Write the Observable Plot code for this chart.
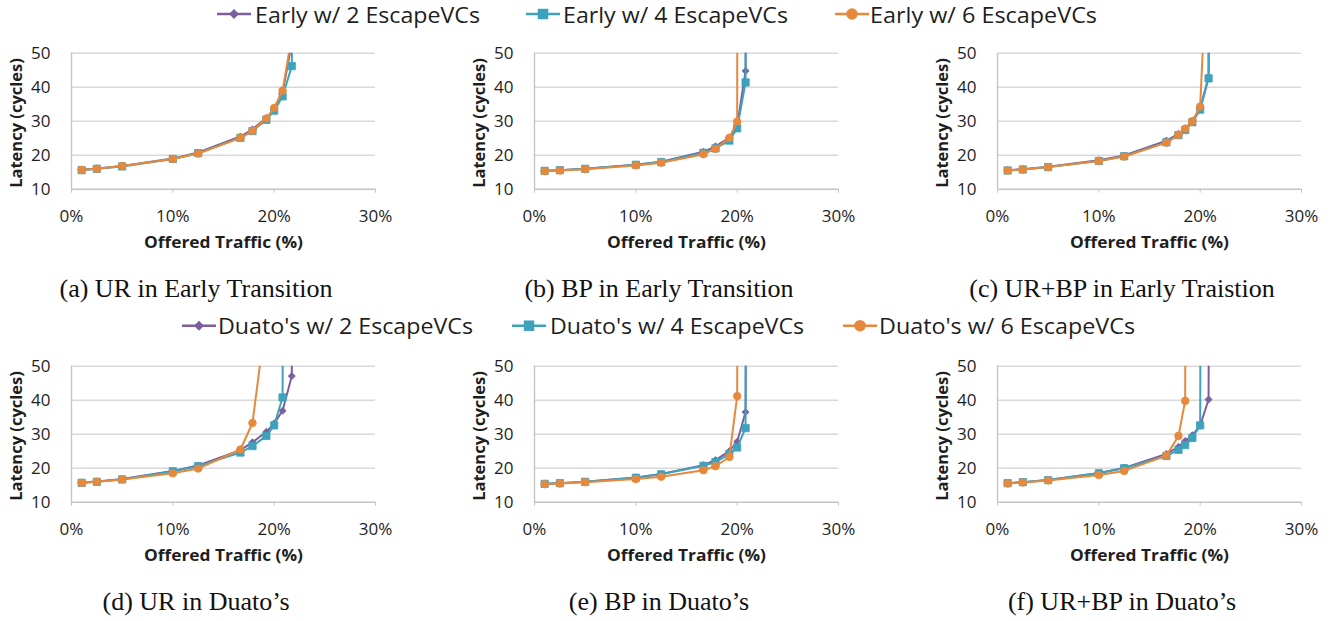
<!DOCTYPE html>
<html>
<head>
<meta charset="utf-8">
<script src="https://cdn.jsdelivr.net/npm/d3@7"></script>
<script src="https://cdn.jsdelivr.net/npm/@observablehq/plot@0.6"></script>
<style>
  html, body { margin: 0; padding: 0; background: #fff; }
  #page { position: relative; width: 1338px; height: 621px; overflow: hidden; font-family: "Open Sans", sans-serif; }
  .panel { position: absolute; }
  #overlay { position: absolute; left: 0; top: 0; pointer-events: none; }
</style>
</head>
<body>
<div id="page"></div>
<script>
// ---------------- data ----------------
const seriesEarly = ["Early w/ 2 EscapeVCs", "Early w/ 4 EscapeVCs", "Early w/ 6 EscapeVCs"];
const seriesDuato = ["Duato's w/ 2 EscapeVCs", "Duato's w/ 4 EscapeVCs", "Duato's w/ 6 EscapeVCs"];
const captions = ["(a) UR in Early Transition", "(b) BP in Early Transition", "(c) UR+BP in Early Traistion",
                  "(d) UR in Duato\u2019s", "(e) BP in Duato\u2019s", "(f) UR+BP in Duato\u2019s"];
const xLabel = "Offered Traffic (%)";
const yLabel = "Latency (cycles)";
const xTicks = [0, 10, 20, 30];
const yTicks = [10, 20, 30, 40, 50];

// offered traffic (%) sampled per panel
const loadUR = [1, 2.5, 5, 10, 12.5, 16.67, 17.86, 19.23, 20, 20.83, 21.74, 22.73];
const loadMix = [1, 2.5, 5, 10, 12.5, 16.67, 17.86, 18.52, 19.23, 20, 20.83, 21.74];

// (a) UR, Early
const aLat2 = [15.7, 16.1, 16.8, 19.0, 20.8, 25.5, 27.6, 30.9, 33.6, 38.5, 53, 400];
const aLat4 = [15.6, 16.0, 16.7, 18.9, 20.6, 25.1, 27.1, 30.4, 33.1, 37.3, 46.2, 400];
const aLat6 = [15.7, 16.0, 16.8, 18.9, 20.5, 25.1, 27.2, 30.8, 33.9, 39.0, 55, 400];
// (b) BP, Early
const bLat2 = [15.4, 15.6, 16.0, 17.2, 18.1, 21.0, 22.6, 25.2, 28.6, 44.8, 1000];
const bLat4 = [15.4, 15.6, 16.0, 17.2, 18.0, 20.7, 22.0, 24.3, 27.9, 41.4, 1000];
const bLat6 = [15.3, 15.5, 15.9, 17.0, 17.8, 20.3, 21.9, 25.1, 29.9, 3000];
// (c) UR+BP, Early
const cLat2 = [15.6, 15.9, 16.6, 18.5, 19.9, 24.3, 26.3, 27.9, 30.1, 33.8, 43.0, 1000];
const cLat4 = [15.5, 15.8, 16.5, 18.3, 19.7, 23.8, 25.9, 27.4, 29.7, 33.4, 42.6, 1000];
const cLat6 = [15.5, 15.8, 16.5, 18.3, 19.6, 23.7, 26.0, 27.8, 30.0, 34.3, 89];
// (d) UR, Duato
const dLat2 = [15.8, 16.1, 16.8, 19.2, 20.8, 25.3, 27.6, 30.7, 33.2, 36.9, 47.1, 1000];
const dLat4 = [15.7, 16.0, 16.7, 19.1, 20.6, 24.6, 26.5, 29.5, 32.6, 40.8, 1000];
const dLat6 = [15.7, 16.0, 16.7, 18.5, 19.9, 25.5, 33.3, 65, 1000];
// (e) BP, Duato
const eLat2 = [15.4, 15.6, 16.0, 17.3, 18.3, 20.9, 22.4, 25.0, 27.8, 36.5, 1000];
const eLat4 = [15.4, 15.6, 16.0, 17.2, 18.2, 20.7, 21.8, 24.2, 26.1, 31.8, 1000];
const eLat6 = [15.3, 15.5, 15.9, 16.8, 17.5, 19.4, 20.6, 23.3, 41.2, 1000];
// (f) UR+BP, Duato
const fLat2 = [15.6, 15.9, 16.5, 18.6, 20.1, 24.2, 26.3, 28.0, 29.7, 32.5, 40.2, 1000];
const fLat4 = [15.6, 15.9, 16.5, 18.5, 20.0, 23.6, 25.4, 26.8, 28.9, 32.6, 1000];
const fLat6 = [15.5, 15.8, 16.4, 18.0, 19.2, 23.7, 29.5, 39.8, 1000];

// ---------------- styles / layout ----------------
const colors = ["#7C5E9C", "#3FA2BC", "#E6893C"];
const symbols = ["diamond2", "square", "circle"];
const dotR = [3.2, 4.1, 3.8];
const textColor = "#1e1e1e";
const gridColor = "#d9d9d9";
const axisColor = "#c4c4c4";

const panelDefs = [
  {load: loadUR,  lats: [aLat2, aLat4, aLat6]},
  {load: loadUR,  lats: [bLat2, bLat4, bLat6]},
  {load: loadMix, lats: [cLat2, cLat4, cLat6]},
  {load: loadUR,  lats: [dLat2, dLat4, dLat6]},
  {load: loadUR,  lats: [eLat2, eLat4, eLat6]},
  {load: loadMix, lats: [fLat2, fLat4, fLat6]}
];
const colPlotLeft = [71, 534.3, 997.3];
const rowSvgTop = [30, 343.3];
const captionX = [196, 659, 1122];
const captionBase = [297, 610];

const page = document.getElementById("page");

function makePanel(def) {
  const marks = [
    Plot.ruleY(yTicks.slice(1), {stroke: gridColor, strokeWidth: 1.4}),
    Plot.ruleY([yTicks[0]], {stroke: axisColor, strokeWidth: 1.4}),
    Plot.ruleX([xTicks[0]], {stroke: axisColor, strokeWidth: 1.4}),
    Plot.axisX(xTicks, {tickSize: 4, tickPadding: 17, tickFormat: d => d + "%", stroke: axisColor, fill: textColor, fontSize: 17, label: null}),
    Plot.axisY(yTicks, {tickSize: 0, tickPadding: 21, fill: textColor, fontSize: 17, label: null}),
    Plot.text([xLabel], {frameAnchor: "bottom", lineAnchor: "middle", textAnchor: "middle", dy: 54, fontWeight: "bold", fontSize: 16.5, fill: textColor}),
    Plot.text([yLabel], {frameAnchor: "left", textAnchor: "middle", lineAnchor: "middle", rotate: -90, dx: -55, dy: 1.8, fontWeight: "bold", fontSize: 16.5, fill: textColor})
  ];
  def.lats.forEach((lat, i) => {
    const data = lat.map((v, k) => ({x: def.load[k], y: v}));
    marks.push(Plot.line(data, {x: "x", y: "y", stroke: colors[i], strokeWidth: 2, clip: true}));
    marks.push(Plot.dot(data.filter(d => d.y <= 50), {x: "x", y: "y", symbol: symbols[i], r: dotR[i], fill: colors[i], stroke: colors[i], strokeWidth: 0.8}));
  });
  return Plot.plot({
    width: 440, height: 230,
    marginLeft: 71, marginRight: 65, marginTop: 22.7, marginBottom: 71.3,
    x: {domain: [0, 30], label: null},
    y: {domain: [10, 50], label: null},
    style: {fontFamily: "'Open Sans', sans-serif", fontSize: "17px", color: textColor, background: "transparent", overflow: "visible"},
    marks
  });
}

panelDefs.forEach((def, p) => {
  const row = Math.floor(p / 3), col = p % 3;
  const svg = makePanel(def);
  svg.classList.add("panel");
  svg.style.left = (colPlotLeft[col] - 71) + "px";
  svg.style.top = rowSvgTop[row] + "px";
  svg.querySelectorAll("text").forEach(t => {
    if (t.textContent === xLabel) { t.setAttribute("textLength", 159); t.setAttribute("lengthAdjust", "spacingAndGlyphs"); }
  });
  page.appendChild(svg);
});

// ---------------- overlay: legends + captions ----------------
const ns = "http://www.w3.org/2000/svg";
const overlay = document.createElementNS(ns, "svg");
overlay.setAttribute("id", "overlay");
overlay.setAttribute("width", 1338);
overlay.setAttribute("height", 621);
page.appendChild(overlay);

const legendRows = [
  {names: seriesEarly, lineY: 14, base: 22.7, lineX: [217, 526, 835], textX: [255, 563, 870], textW: [225, 225, 227]},
  {names: seriesDuato, lineY: 325.7, base: 334, lineX: [182, 512, 843], textX: [218, 550, 879], textW: [255, 254, 256]}
];
const legendSym = [d3.symbolDiamond2, d3.symbolSquare, d3.symbolCircle];
const legendSize = [62, 110, 105];

legendRows.forEach(row => {
  row.names.forEach((name, i) => {
    const x0 = row.lineX[i];
    const line = document.createElementNS(ns, "line");
    line.setAttribute("x1", x0); line.setAttribute("x2", x0 + 34);
    line.setAttribute("y1", row.lineY); line.setAttribute("y2", row.lineY);
    line.setAttribute("stroke", colors[i]); line.setAttribute("stroke-width", 2.6);
    overlay.appendChild(line);
    const sym = document.createElementNS(ns, "path");
    sym.setAttribute("d", d3.symbol(legendSym[i], legendSize[i])());
    sym.setAttribute("transform", `translate(${x0 + 17},${row.lineY})`);
    sym.setAttribute("fill", colors[i]);
    overlay.appendChild(sym);
    const t = document.createElementNS(ns, "text");
    t.setAttribute("x", row.textX[i]); t.setAttribute("y", row.base);
    t.setAttribute("font-family", "'Open Sans', sans-serif");
    t.setAttribute("font-size", 21);
    t.setAttribute("fill", textColor);
    t.setAttribute("textLength", row.textW[i]);
    t.setAttribute("lengthAdjust", "spacingAndGlyphs");
    t.textContent = name;
    overlay.appendChild(t);
  });
});

captions.forEach((c, p) => {
  const row = Math.floor(p / 3), col = p % 3;
  const t = document.createElementNS(ns, "text");
  t.setAttribute("x", captionX[col]); t.setAttribute("y", captionBase[row]);
  t.setAttribute("text-anchor", "middle");
  t.setAttribute("font-family", "'Liberation Serif', 'Times New Roman', serif");
  t.setAttribute("font-size", 26);
  t.setAttribute("fill", "#111");
  t.textContent = c;
  overlay.appendChild(t);
});
</script>
</body>
</html>
